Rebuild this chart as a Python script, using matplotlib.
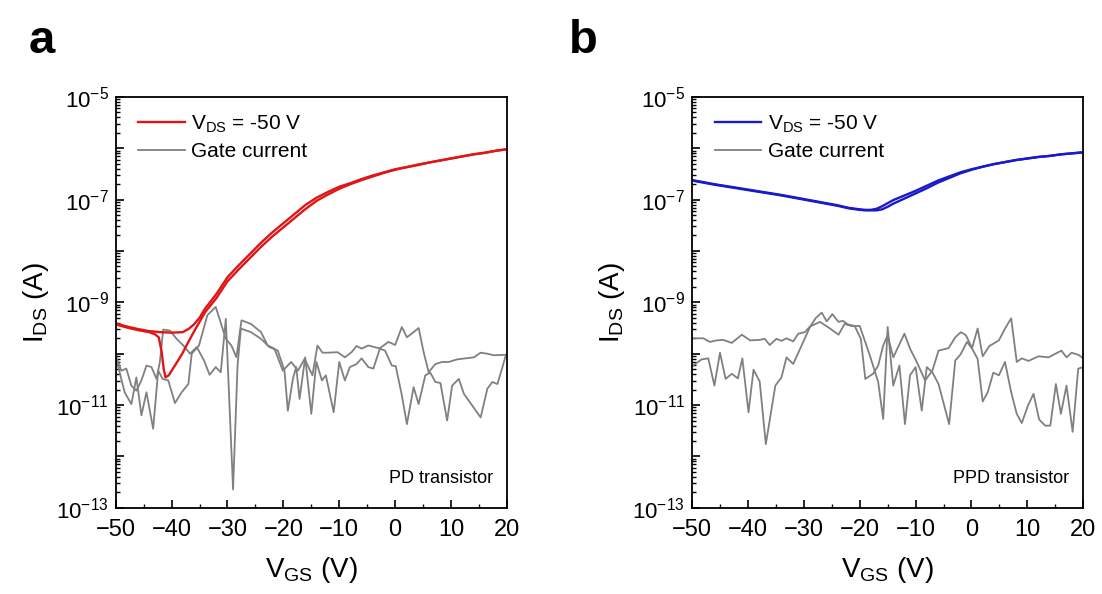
import numpy as np
import matplotlib.pyplot as plt
from matplotlib.ticker import FixedLocator, FuncFormatter, LogLocator, MultipleLocator

plt.rcParams['font.family'] = ['Liberation Sans', 'DejaVu Sans']
plt.rcParams['mathtext.fontset'] = 'custom'
plt.rcParams['mathtext.rm'] = 'Liberation Sans'
plt.rcParams['mathtext.it'] = 'Liberation Sans:italic'
plt.rcParams['mathtext.bf'] = 'Liberation Sans:bold'

# (V_GS, log10 I)
ids_a_fwd = [(-50, -9.41), (-48, -9.47), (-46, -9.52), (-44, -9.56), (-42, -9.58), (-40, -9.59),
             (-38, -9.58), (-37, -9.52), (-36, -9.43), (-35, -9.30), (-34, -9.12), (-32, -8.84),
             (-30, -8.51), (-28, -8.28), (-26, -8.06), (-24, -7.84), (-22, -7.64), (-20, -7.46),
             (-18, -7.28), (-16, -7.10), (-14, -6.96), (-12, -6.85), (-10, -6.75), (-8, -6.68),
             (-6, -6.60), (-4, -6.53), (-2, -6.47), (0, -6.41), (2, -6.37), (4, -6.32), (6, -6.28),
             (8, -6.24), (10, -6.20), (12, -6.16), (14, -6.12), (16, -6.09), (18, -6.05), (20, -6.02)]
ids_a_rev = [(-50, -9.43), (-48, -9.49), (-46, -9.54), (-44, -9.58), (-43, -9.62), (-42.3, -9.68),
             (-41.8, -9.95), (-41.4, -10.30), (-41.1, -10.46), (-40.5, -10.42), (-40, -10.33),
             (-39, -10.16), (-38, -9.98), (-37, -9.77), (-36, -9.57), (-35, -9.38), (-34, -9.19),
             (-32, -8.92), (-30, -8.59), (-28, -8.36), (-26, -8.14), (-24, -7.92), (-22, -7.72),
             (-20, -7.54), (-18, -7.36), (-16, -7.18), (-14, -7.02), (-12, -6.90), (-10, -6.79),
             (-8, -6.70), (-6, -6.62), (-4, -6.55), (-2, -6.48), (0, -6.42), (2, -6.37), (4, -6.33),
             (6, -6.28), (8, -6.24), (10, -6.20), (12, -6.16), (14, -6.12), (16, -6.09), (18, -6.05),
             (20, -6.02)]

gate_a1 = [(-49.9, -10.07), (-49.0, -10.33), (-48.1, -10.29), (-47.2, -10.62), (-46.3, -10.72),
           (-45.4, -10.52), (-44.5, -10.23), (-43.6, -10.26), (-42.7, -10.49), (-42.1, -10.16),
           (-41.5, -9.53), (-40.3, -9.55), (-39.1, -9.71), (-37.9, -9.84), (-36.7, -10.00),
           (-35.5, -9.87), (-34.2, -10.13), (-33.2, -10.41), (-32.1, -10.26), (-31.2, -10.36),
           (-30.3, -9.32), (-29.0, -12.64), (-28.2, -10.23), (-27.6, -9.51), (-25.8, -9.58),
           (-24.0, -9.71), (-22.5, -9.87), (-21.0, -9.94), (-19.8, -10.33), (-19.2, -11.11),
           (-18.3, -10.49), (-17.7, -10.26), (-17.1, -10.88), (-16.1, -10.07), (-15.0, -11.17),
           (-14.1, -10.16), (-13.1, -10.52), (-12.4, -10.42), (-11.0, -11.14), (-10.0, -10.16),
           (-9.0, -10.52), (-8.1, -10.26), (-6.9, -10.20), (-6.0, -10.09), (-4.8, -10.26),
           (-3.9, -10.29), (-2.7, -9.89), (-1.2, -9.77), (0.0, -9.83), (1.2, -9.48), (2.1, -9.68),
           (3.3, -9.58), (4.2, -9.50), (5.1, -9.97), (6.0, -10.36), (7.2, -10.20), (8.4, -10.16),
           (9.6, -10.16), (11.1, -10.11), (12.6, -10.09), (14.1, -10.07), (15.3, -9.98),
           (16.5, -10.00), (17.7, -10.03), (19.8, -10.02)]
gate_a2 = [(-49.9, -10.10), (-48.4, -10.75), (-47.2, -10.98), (-46.3, -10.46), (-45.4, -11.20),
           (-44.5, -10.75), (-43.3, -11.46), (-42.4, -10.33), (-41.6, -10.49), (-40.6, -10.52),
           (-39.4, -10.96), (-38.2, -10.75), (-37.0, -10.59), (-36.4, -10.00), (-35.1, -9.84),
           (-33.6, -9.25), (-32.1, -9.09), (-30.3, -9.71), (-29.3, -9.84), (-28.4, -10.07),
           (-27.5, -9.35), (-25.8, -9.42), (-24.0, -9.58), (-22.8, -9.84), (-21.6, -9.90),
           (-20.1, -10.33), (-18.6, -10.16), (-17.4, -10.33), (-16.2, -10.10), (-14.8, -10.42),
           (-13.9, -9.84), (-13.0, -9.98), (-12.1, -9.98), (-10.3, -9.97), (-9.0, -10.07),
           (-7.8, -9.97), (-6.9, -9.85), (-6.0, -9.90), (-4.8, -9.84), (-3.0, -9.89), (-1.8, -9.94),
           (-0.6, -10.23), (0.1, -10.24), (1.2, -10.81), (2.1, -11.37), (3.3, -10.65), (4.2, -10.98),
           (5.4, -10.42), (6.3, -10.37), (7.2, -10.55), (8.1, -10.57), (9.3, -11.30), (10.2, -10.62),
           (11.4, -10.49), (12.3, -10.78), (13.8, -11.01), (15.3, -11.24), (16.5, -10.68),
           (17.4, -10.55), (18.3, -10.59), (19.2, -10.26), (19.8, -10.03)]

ids_b_fwd = [(-50, -6.62), (-46, -6.70), (-42, -6.77), (-38, -6.84), (-34, -6.91), (-30, -6.99),
             (-26, -7.07), (-24, -7.11), (-22, -7.16), (-20, -7.19), (-19, -7.20), (-18, -7.20),
             (-17, -7.18), (-16, -7.13), (-15, -7.07), (-14, -7.01), (-12, -6.92), (-10, -6.83),
             (-8, -6.73), (-6, -6.63), (-4, -6.55), (-2, -6.47), (0, -6.41), (2, -6.36), (4, -6.31),
             (6, -6.27), (8, -6.23), (10, -6.20), (12, -6.17), (14, -6.15), (16, -6.12), (18, -6.10),
             (20, -6.08)]
ids_b_rev = [(-50, -6.63), (-46, -6.71), (-42, -6.78), (-38, -6.85), (-34, -6.92), (-30, -7.00),
             (-26, -7.08), (-24, -7.12), (-22, -7.17), (-20, -7.20), (-19, -7.21), (-18, -7.21),
             (-17, -7.21), (-16, -7.19), (-15, -7.14), (-14, -7.08), (-12, -6.98), (-10, -6.88),
             (-8, -6.78), (-6, -6.67), (-4, -6.58), (-2, -6.49), (0, -6.42), (2, -6.36), (4, -6.31),
             (6, -6.27), (8, -6.23), (10, -6.20), (12, -6.17), (14, -6.15), (16, -6.12), (18, -6.10),
             (20, -6.08)]

gate_b1 = [(-49.8, -9.70), (-48.0, -9.70), (-46.8, -9.77), (-45.6, -9.74), (-44.4, -9.73),
           (-42.9, -9.79), (-41.1, -9.63), (-39.6, -9.74), (-37.9, -9.73), (-37.0, -9.71),
           (-36.1, -9.83), (-34.9, -9.71), (-34.0, -9.75), (-33.1, -9.70), (-31.9, -9.76),
           (-31.0, -9.61), (-29.8, -9.58), (-28.9, -9.47), (-27.1, -9.38), (-25.3, -9.51),
           (-23.8, -9.63), (-22.7, -9.42), (-21.5, -9.46), (-20.0, -9.46), (-18.2, -10.03),
           (-16.7, -10.55), (-15.8, -11.27), (-15.0, -9.48), (-14.0, -10.62), (-12.9, -10.23),
           (-11.9, -11.37), (-11.0, -10.42), (-10.0, -10.26), (-8.9, -11.11), (-8.0, -10.26),
           (-7.0, -10.36), (-5.9, -10.59), (-4.0, -11.37), (-2.9, -10.13), (-2.0, -10.02),
           (-0.8, -9.77), (0.1, -9.90), (1.1, -10.10), (2.0, -10.93), (2.9, -10.75), (3.9, -10.37),
           (4.9, -10.42), (6.0, -10.16), (7.1, -10.75), (8.1, -11.17), (9.0, -11.35), (10.1, -11.01),
           (11.1, -10.78), (12.1, -11.28), (13.2, -11.40), (14.1, -11.40), (15.1, -10.59),
           (16.0, -11.17), (17.0, -10.62), (18.1, -11.52), (19.1, -10.29), (20.0, -10.26)]
gate_b2 = [(-49.8, -10.23), (-48.3, -10.11), (-47.1, -10.09), (-46.0, -10.62), (-45.0, -9.98),
           (-44.0, -10.49), (-42.9, -10.39), (-41.8, -10.48), (-41.0, -10.09), (-39.9, -11.14),
           (-39.0, -10.31), (-37.9, -10.54), (-36.8, -11.76), (-35.1, -10.62), (-34.0, -10.46),
           (-33.1, -10.07), (-31.9, -10.20), (-30.4, -9.84), (-28.9, -9.48), (-27.9, -9.31),
           (-26.8, -9.20), (-25.9, -9.37), (-24.9, -9.23), (-23.8, -9.38), (-23.0, -9.36),
           (-22.1, -9.43), (-20.9, -9.46), (-19.8, -9.71), (-19.0, -10.49), (-17.6, -10.39),
           (-16.7, -10.23), (-15.8, -9.84), (-15.0, -9.64), (-14.0, -10.07), (-12.0, -9.61),
           (-11.0, -9.90), (-9.8, -10.16), (-8.3, -10.52), (-7.0, -10.33), (-5.9, -9.94),
           (-4.1, -9.89), (-2.9, -9.68), (-1.9, -9.58), (-1.0, -9.64), (0.1, -9.89), (1.1, -9.51),
           (2.0, -10.05), (3.2, -9.85), (4.9, -9.74), (6.0, -9.51), (7.1, -9.31), (8.1, -10.16),
           (9.0, -10.09), (10.2, -10.14), (12.0, -10.05), (13.8, -10.07), (15.0, -10.00),
           (16.1, -9.94), (17.0, -10.07), (17.9, -9.98), (19.1, -10.02), (20.0, -10.09)]

x_ticks = [-50, -40, -30, -20, -10, 0, 10, 20]
label_fs = 20


def xy(pairs):
    arr = np.array(pairs)
    return arr[:, 0], 10.0 ** arr[:, 1]


def yfmt(v, pos):
    e = int(round(np.log10(v)))
    if e % 2 == 0:
        return ''
    return r'$\mathregular{10^{%d}}$' % e


def panel(ax, fwd, rev, g1, g2, color, name):
    gray = '#808080'
    ax.plot(*xy(g1), color=gray, lw=1.3)
    ax.plot(*xy(g2), color=gray, lw=1.3)
    l1, = ax.plot(*xy(fwd), color=color, lw=1.7)
    ax.plot(*xy(rev), color=color, lw=1.7)
    ax.set_yscale('log')
    ax.set_xlim(-50, 20)
    ax.set_ylim(1e-13, 1e-5)
    ax.xaxis.set_major_locator(FixedLocator(x_ticks))
    ax.xaxis.set_minor_locator(MultipleLocator(5))
    ax.yaxis.set_major_locator(FixedLocator(10.0 ** np.arange(-13, -4)))
    ax.yaxis.set_major_formatter(FuncFormatter(yfmt))
    ax.yaxis.set_minor_locator(LogLocator(base=10, subs=np.arange(2, 10), numticks=20))
    ax.yaxis.set_minor_formatter(FuncFormatter(lambda v, p: ''))
    ax.tick_params(which='both', direction='in', top=False, right=False)
    ax.tick_params(axis='x', labelsize=17, pad=8)
    ax.tick_params(axis='y', labelsize=16, pad=5)
    ax.tick_params(which='major', length=6, width=1.2)
    ax.tick_params(which='minor', length=3, width=1.0)
    for s in ax.spines.values():
        s.set_linewidth(1.3)
    ax.set_xlabel(r'$\mathregular{V_{GS}}$ (V)', fontsize=label_fs, labelpad=10)
    ax.set_ylabel(r'$\mathregular{I_{DS}}$ (A)', fontsize=label_fs, labelpad=4)
    g_handle = plt.Line2D([], [], color=gray, lw=1.3)
    ax.legend([l1, g_handle], [r'$\mathregular{V_{DS}}$ = -50 V', 'Gate current'],
              loc='upper left', bbox_to_anchor=(0.015, 1.0), frameon=False, fontsize=15,
              handlelength=2.25, handletextpad=0.3, labelspacing=0.35, borderaxespad=0.4)
    ax.text(0.965, 0.05, name, transform=ax.transAxes, ha='right', va='bottom', fontsize=13)


fig = plt.figure(figsize=(11.02, 5.94), dpi=100)
ax1 = fig.add_axes([0.105, 0.145, 0.355, 0.692])
ax2 = fig.add_axes([0.628, 0.145, 0.355, 0.692])

panel(ax1, ids_a_fwd, ids_a_rev, gate_a1, gate_a2, '#e01515', 'PD transistor')
panel(ax2, ids_b_fwd, ids_b_rev, gate_b1, gate_b2, '#1a1ac8', 'PPD transistor')

fig.text(0.026, 0.911, 'a', fontsize=34, fontweight='bold', va='baseline')
fig.text(0.516, 0.911, 'b', fontsize=34, fontweight='bold', va='baseline')

plt.savefig('out.png', dpi=100)
